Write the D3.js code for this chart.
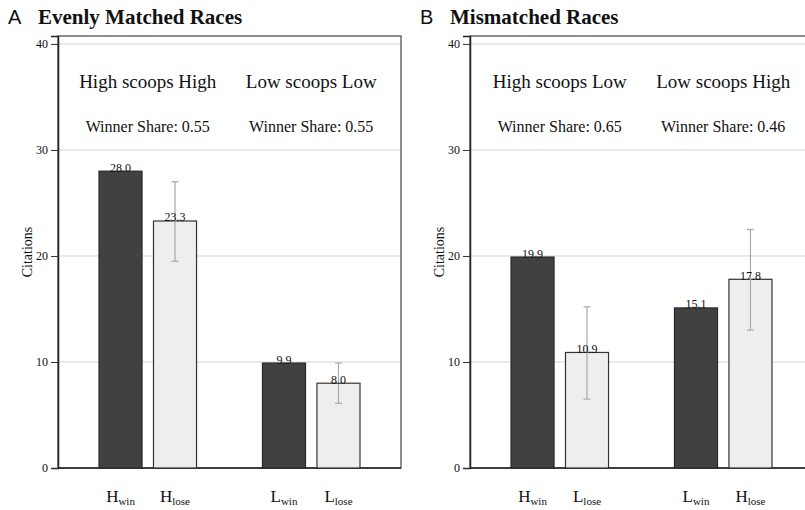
<!DOCTYPE html>
<html>
<head>
<meta charset="utf-8">
<script src="https://cdn.jsdelivr.net/npm/d3@7"></script>
<style>
  body { margin: 0; background: #fff; }
  svg { display: block; }
  text { font-family: "Liberation Serif", "Times New Roman", serif; fill: #111; }
</style>
</head>
<body>
<svg width="805" height="510"></svg>
<script>
const panelLetters = ["A", "B"];
const panelTitles = ["Evenly Matched Races", "Mismatched Races"];
// bar labels: [main letter, subscript]
const barLabels = [
  [["H", "win"], ["H", "lose"], ["L", "win"], ["L", "lose"]],
  [["H", "win"], ["L", "lose"], ["L", "win"], ["H", "lose"]]
];
const barOutcome = ["win", "lose", "win", "lose"];
const barValues = [
  [28.0, 23.3, 9.9, 8.0],
  [19.9, 10.9, 15.1, 17.8]
];
const errLow = [
  [null, 19.5, null, 6.1],
  [null, 6.5, null, 13.0]
];
const errHigh = [
  [null, 27.0, null, 9.9],
  [null, 15.2, null, 22.5]
];
const raceLabels = [
  ["High scoops High", "Low scoops Low"],
  ["High scoops Low", "Low scoops High"]
];
const winnerShares = [
  [0.55, 0.55],
  [0.65, 0.46]
];
const yTicks = [0, 10, 20, 30, 40];

const svg = d3.select("svg");
const serif = "'Liberation Serif', 'Times New Roman', serif";
const panelLeft = [58, 470];
const plotW = 343;
const plotTop = 36, plotBottom = 468;
const slots = ["b0", "b1", "gap", "b2", "b3"];
const slotOf = ["b0", "b1", "b2", "b3"];

const y = d3.scaleLinear().domain([0, 40.75]).range([plotBottom, plotTop]);

panelLetters.forEach((letter, p) => {
  const left = panelLeft[p];
  const g = svg.append("g");
  const x = d3.scaleBand().domain(slots)
    .range([left + 41, left + 302]).paddingInner(0.21);

  // titles
  g.append("text").attr("x", left - 50).attr("y", 24)
    .style("font-family", "'Liberation Sans', Arial, sans-serif")
    .style("font-size", "20px").text(letter);
  g.append("text").attr("x", left - 20).attr("y", 24)
    .style("font-size", "21px").style("font-weight", "bold")
    .text(panelTitles[p]);

  // grid
  g.selectAll(".grid").data(yTicks.slice(1)).enter().append("line")
    .attr("x1", left).attr("x2", left + plotW)
    .attr("y1", d => y(d)).attr("y2", d => y(d))
    .attr("stroke", "#d4d4d4").attr("stroke-width", 1);

  // frame
  g.append("rect").attr("x", left).attr("y", plotTop)
    .attr("width", plotW).attr("height", plotBottom - plotTop)
    .attr("fill", "none").attr("stroke", "#444").attr("stroke-width", 1.2);

  // y axis
  const ax = g.append("g").attr("transform", `translate(${left},0)`)
    .call(d3.axisLeft(y).tickValues(yTicks).tickSize(7).tickPadding(3));
  ax.attr("font-family", serif);
  ax.select(".domain").attr("stroke", "#222").attr("stroke-width", 1.5);
  ax.selectAll(".tick line").attr("stroke", "#333");
  ax.selectAll(".tick text")
    .style("font-family", serif)
    .style("font-size", "12px").attr("fill", "#111");

  // bottom axis line
  g.append("line").attr("x1", left).attr("x2", left + plotW)
    .attr("y1", plotBottom).attr("y2", plotBottom)
    .attr("stroke", "#222").attr("stroke-width", 1.5);

  g.append("text")
    .attr("transform", `translate(${left - 26},${(plotTop + plotBottom) / 2}) rotate(-90)`)
    .attr("text-anchor", "middle").style("font-size", "14px")
    .style("font-family", serif)
    .text("Citations");

  const bars = barValues[p].map((v, i) => ({
    v, i, slot: slotOf[i], outcome: barOutcome[i],
    lo: errLow[p][i], hi: errHigh[p][i], label: barLabels[p][i]
  }));

  g.selectAll(".bar").data(bars).enter().append("rect")
    .attr("x", d => x(d.slot)).attr("width", x.bandwidth())
    .attr("y", d => y(d.v)).attr("height", d => y(0) - y(d.v))
    .attr("fill", d => d.outcome === "win" ? "#414141" : "#eeeeee")
    .attr("stroke", d => d.outcome === "win" ? "#2a2a2a" : "#333")
    .attr("stroke-width", 1.2);

  // error bars
  const eb = bars.filter(d => d.lo !== null);
  const cx = d => x(d.slot) + x.bandwidth() / 2;
  g.selectAll(".err").data(eb).enter().append("line")
    .attr("x1", cx).attr("x2", cx)
    .attr("y1", d => y(d.lo)).attr("y2", d => y(d.hi))
    .attr("stroke", "#a9a9a9").attr("stroke-width", 1.2);
  ["lo", "hi"].forEach(k => {
    g.selectAll(".cap" + k).data(eb).enter().append("line")
      .attr("x1", d => cx(d) - 3.5).attr("x2", d => cx(d) + 3.5)
      .attr("y1", d => y(d[k])).attr("y2", d => y(d[k]))
      .attr("stroke", "#a9a9a9").attr("stroke-width", 1.2);
  });

  // value labels
  g.selectAll(".val").data(bars).enter().append("text")
    .attr("x", cx).attr("y", d => y(d.v) + 0.5)
    .attr("text-anchor", "middle").style("font-size", "12px")
    .style("font-family", serif)
    .text(d => d.v.toFixed(1));

  // x labels with subscripts
  const xl = g.selectAll(".xl").data(bars).enter().append("text")
    .attr("x", cx).attr("y", 502).attr("text-anchor", "middle")
    .style("font-size", "17px");
  xl.append("tspan").text(d => d.label[0]);
  xl.append("tspan").attr("dy", 3).style("font-size", "11px").text(d => d.label[1]);

  // race annotations
  [["b0", "b1"], ["b2", "b3"]].forEach((pair, k) => {
    const mid = (x(pair[0]) + x(pair[1]) + x.bandwidth()) / 2;
    g.append("text").attr("x", mid).attr("y", 88)
      .attr("text-anchor", "middle").style("font-size", "19px")
      .text(raceLabels[p][k]);
    g.append("text").attr("x", mid).attr("y", 132)
      .attr("text-anchor", "middle").style("font-size", "16px")
      .text("Winner Share: " + winnerShares[p][k].toFixed(2));
  });
});
</script>
</body>
</html>
